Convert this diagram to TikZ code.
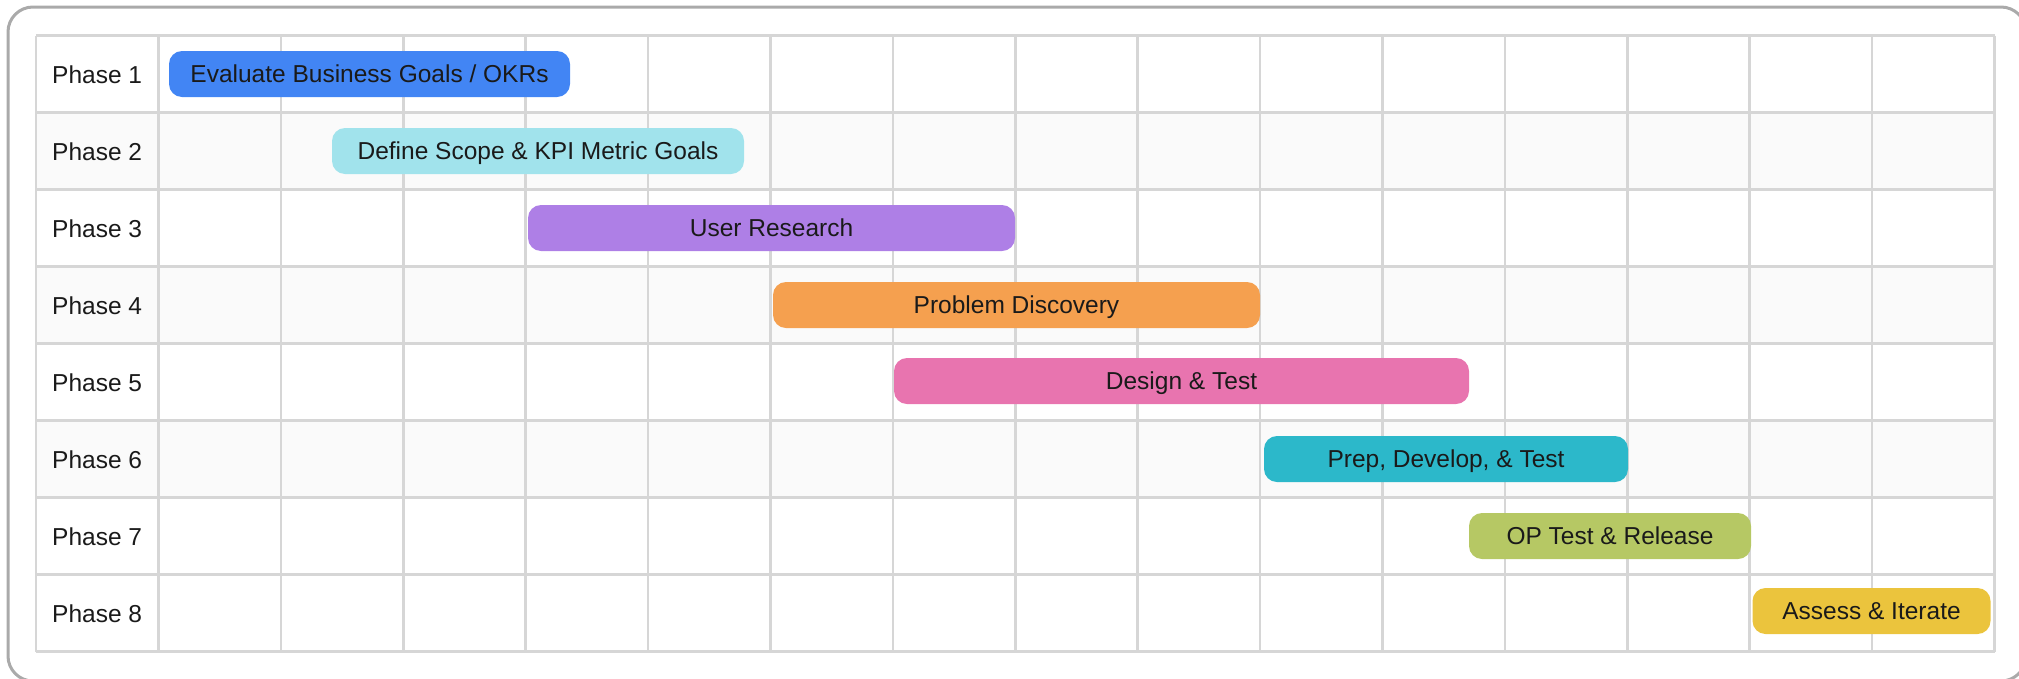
\documentclass[tikz,border=0pt]{standalone}
\usepackage{fontspec}
\setmainfont{Liberation Sans}
\definecolor{gridc}{HTML}{D6D6D6}
\definecolor{rowgray}{HTML}{FAFAFA}
\definecolor{framec}{HTML}{AAAAAA}
\definecolor{txt}{HTML}{1A1A1A}
\definecolor{cA}{HTML}{4285F4}
\definecolor{cB}{HTML}{A1E3EC}
\definecolor{cC}{HTML}{AE7FE6}
\definecolor{cD}{HTML}{F5A04F}
\definecolor{cE}{HTML}{E874AF}
\definecolor{cF}{HTML}{2CB8CA}
\definecolor{cG}{HTML}{B6C864}
\definecolor{cH}{HTML}{EBC43D}
\tikzset{
  gridline/.style={draw=gridc, line width=2.5pt},
  phaselabel/.style={anchor=west, inner sep=0pt, text height=17.5pt, text depth=0pt, text=txt, font=\fontsize{24.5}{28}\selectfont},
  taskbar/.style={rounded corners=13pt, minimum height=46pt, inner sep=0pt, text height=17.5pt, text depth=0pt, text=txt, font=\fontsize{24.5}{28}\selectfont},
}
\begin{document}
\begin{tikzpicture}[x=1pt,y=-1pt]
\useasboundingbox (0,0) rectangle (2019,678);
\clip (0,0) rectangle (2019,678);
% frame
\draw[framec, line width=3pt, rounded corners=25pt] (8,7) rectangle (2026,681);
% gray rows
\foreach \r in {1,3,5} {
  \fill[rowgray] (36,{35.5+77*\r}) rectangle (1994.5,{35.5+77*(\r+1)});
}
% grid
\foreach \j in {0,...,8} {
  \draw[gridline] (36,{35.5+77*\j}) -- (1994.5,{35.5+77*\j});
}
\draw[gridline] (36,35.5) -- (36,651.5);
\foreach \k in {0,...,15} {
  \draw[gridline] ({158.5+122.4*\k},35.5) -- ({158.5+122.4*\k},651.5);
}
% labels
\foreach \i in {1,...,8} {
  \node[phaselabel] (L\i) at (52,{74.5+77*(\i-1)}) {Phase \i};
}
% bars
\node[taskbar, fill=cA, minimum width=401pt] (b1) at (369.5,74) {Evaluate Business Goals / OKRs};
\node[taskbar, fill=cB, minimum width=412pt] (b2) at (538,151) {Define Scope \& KPI Metric Goals};
\node[taskbar, fill=cC, minimum width=487pt] (b3) at (771.5,228) {User Research};
\node[taskbar, fill=cD, minimum width=487pt] (b4) at (1016.5,305) {Problem Discovery};
\node[taskbar, fill=cE, minimum width=575pt] (b5) at (1181.5,381) {Design \& Test};
\node[taskbar, fill=cF, minimum width=364pt] (b6) at (1446,459) {Prep, Develop, \& Test};
\node[taskbar, fill=cG, minimum width=282pt] (b7) at (1610,536) {OP Test \& Release};
\node[taskbar, fill=cH, minimum width=238pt] (b8) at (1871.5,611) {Assess \& Iterate};
\end{tikzpicture}
\end{document}
